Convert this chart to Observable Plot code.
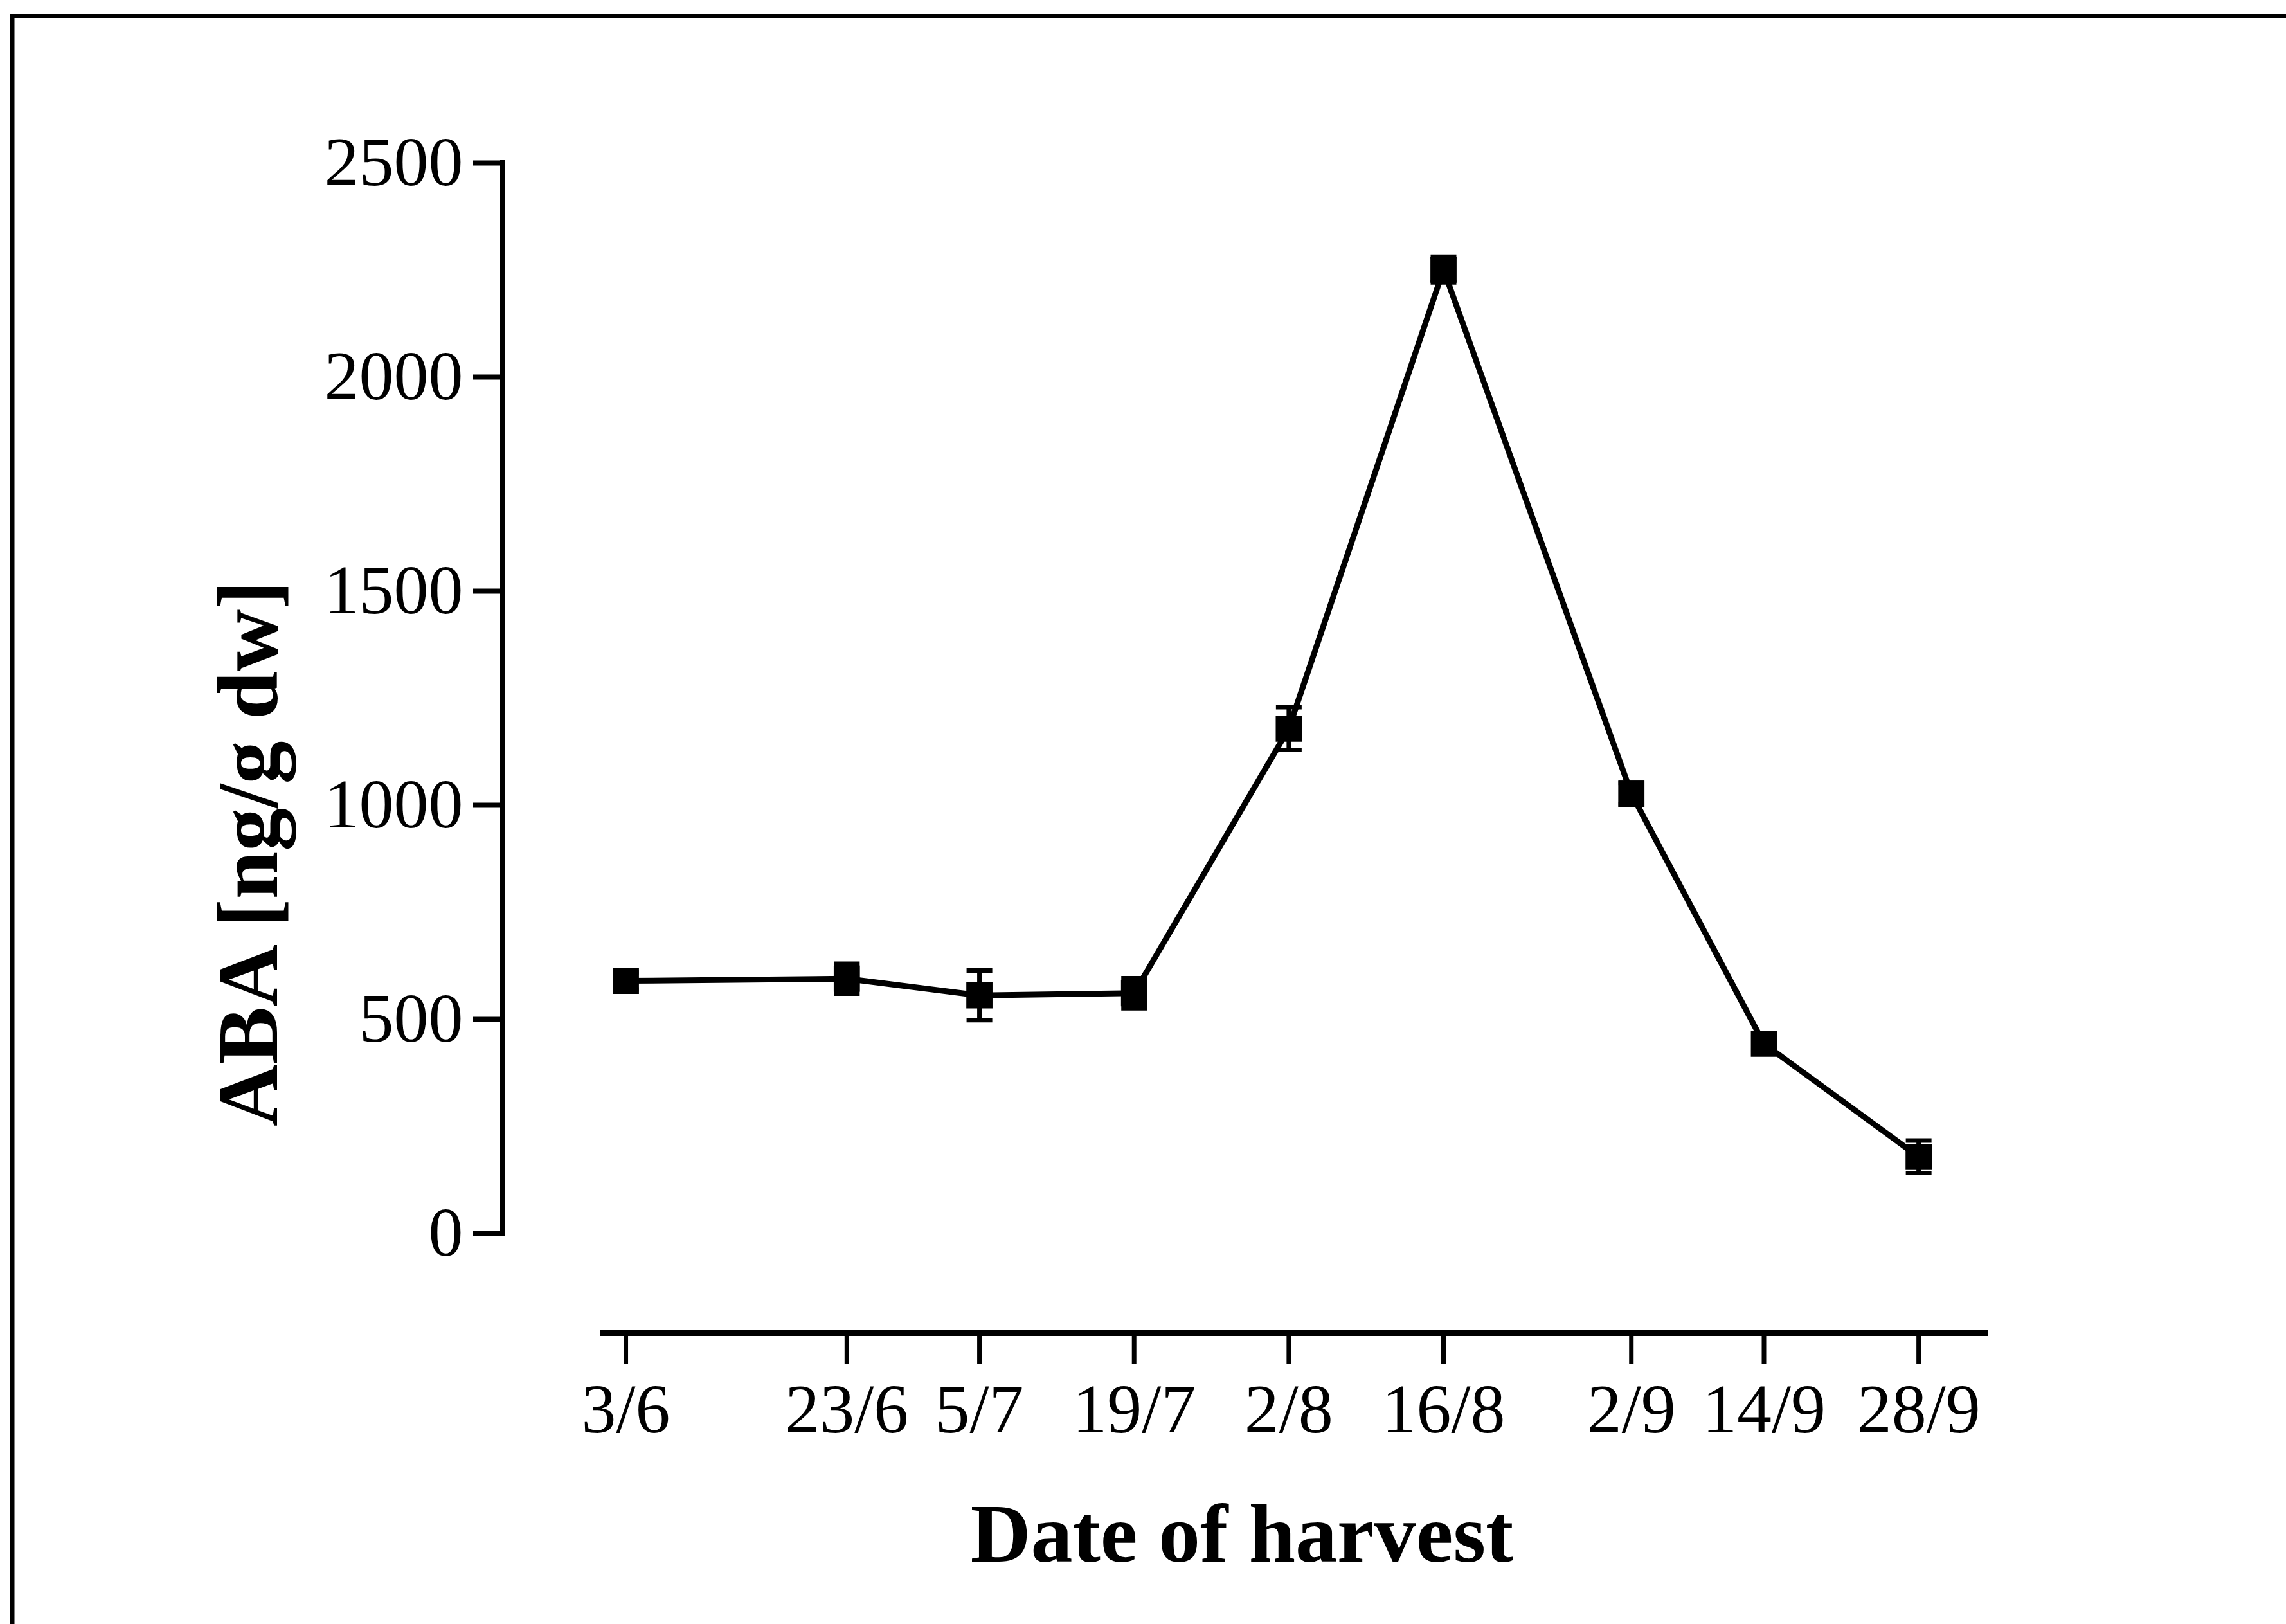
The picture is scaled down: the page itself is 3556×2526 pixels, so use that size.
<!DOCTYPE html>
<html>
<head>
<meta charset="utf-8">
<script src="https://cdn.jsdelivr.net/npm/d3@7"></script>
<script src="https://cdn.jsdelivr.net/npm/@observablehq/plot@0.6"></script>
<style>
  html, body { margin: 0; padding: 0; background: #fff; }
</style>
</head>
<body>
<div id="chart"></div>
<script>
// ---- data ----
const harvestDates = ["2001-06-03", "2001-06-23", "2001-07-05", "2001-07-19", "2001-08-02",
                      "2001-08-16", "2001-09-02", "2001-09-14", "2001-09-28"];
const tickLabels   = ["3/6", "23/6", "5/7", "19/7", "2/8", "16/8", "2/9", "14/9", "28/9"];
const abaValues    = [590, 595, 556, 561, 1179, 2251, 1027, 443, 179];
const abaErrors    = [20, 35, 58, 35, 50, 30, 25, 15, 38];
const yTicks       = [0, 500, 1000, 1500, 2000, 2500];
const xAxisTitle   = "Date of harvest";
const yAxisTitle   = "ABA [ng/g dw]";

// ---- table built from the arrays ----
const data = harvestDates.map((d, i) => ({
  date: new Date(d + "T00:00:00Z"),
  label: tickLabels[i],
  aba: abaValues[i],
  lo: abaValues[i] - abaErrors[i],
  hi: abaValues[i] + abaErrors[i]
}));
const tickDates = data.map(d => d.date);
const labelOf = new Map(data.map(d => [+d.date, d.label]));
const xDomain = [new Date("2001-05-31T17:30:00Z"), new Date("2001-10-04T08:00:00Z")];

// horizontal cap symbol for error bars
const capSymbol = {
  draw(ctx, size) {
    const r = Math.sqrt(size / Math.PI);
    ctx.moveTo(-r, 0);
    ctx.lineTo(r, 0);
  }
};

// figure border (top and left edges of the scanned frame)
const border = (index, scales, values, dims) => {
  const g = d3.create("svg:g");
  g.append("path")
    .attr("d", `M19,${dims.height}V24.5H${dims.width}`)
    .attr("fill", "none").attr("stroke", "black").attr("stroke-width", 7);
  return g.node();
};

// detached axis lines
const axisLines = (index, scales, values, dims) => {
  const g = d3.create("svg:g").attr("stroke", "black").attr("fill", "none");
  const [y0, y1] = d3.extent(yTicks);
  g.append("path")
    .attr("d", `M${dims.marginLeft},${scales.y(y0)}V${scales.y(y1)}`)
    .attr("stroke-width", 8).attr("stroke-linecap", "square");
  const yb = dims.height - dims.marginBottom;
  g.append("path")
    .attr("d", `M${scales.x(xDomain[0])},${yb}H${scales.x(xDomain[1])}`)
    .attr("stroke-width", 10);
  return g.node();
};

const chart = Plot.plot({
  width: 3556,
  height: 2526,
  marginLeft: 782,
  marginTop: 253,
  marginBottom: 453,
  marginRight: 463,
  style: {
    fontFamily: "'Liberation Serif', 'Times New Roman', serif",
    background: "white",
    color: "black"
  },
  x: { type: "utc", domain: xDomain, insetLeft: 152 },
  y: { domain: [0, 2500], insetBottom: 155 },
  marks: [
    border,
    axisLines,
    Plot.axisY({
      ticks: yTicks, tickSize: 46, tickPadding: 16, fontSize: 108,
      strokeWidth: 8, tickFormat: d3.format("d"), label: null
    }),
    Plot.axisX({
      ticks: tickDates, tickSize: 48, tickPadding: 30, fontSize: 108,
      strokeWidth: 7, tickFormat: d => labelOf.get(+d), label: null
    }),
    Plot.line(data, { x: "date", y: "aba", stroke: "black", strokeWidth: 9 }),
    Plot.ruleX(data, { x: "date", y1: "lo", y2: "hi", stroke: "black", strokeWidth: 7 }),
    Plot.dot(data, { x: "date", y: "lo", symbol: capSymbol, r: 20, fill: "none", stroke: "black", strokeWidth: 7 }),
    Plot.dot(data, { x: "date", y: "hi", symbol: capSymbol, r: 20, fill: "none", stroke: "black", strokeWidth: 7 }),
    Plot.dot(data, { x: "date", y: "aba", symbol: "square", r: 23, fill: "black", stroke: "none" }),
    Plot.text([xAxisTitle], {
      frameAnchor: "bottom", text: d => d, dy: 355, dx: -6, lineAnchor: "bottom",
      textAnchor: "middle", fontSize: 130, fontWeight: "bold", fill: "black"
    }),
    Plot.text([yAxisTitle], {
      frameAnchor: "left", text: d => d, rotate: -90, dx: -352, dy: 164,
      lineAnchor: "bottom", textAnchor: "middle", fontSize: 134, fontWeight: "bold", fill: "black"
    })
  ]
});

document.getElementById("chart").appendChild(chart);
</script>
</body>
</html>
